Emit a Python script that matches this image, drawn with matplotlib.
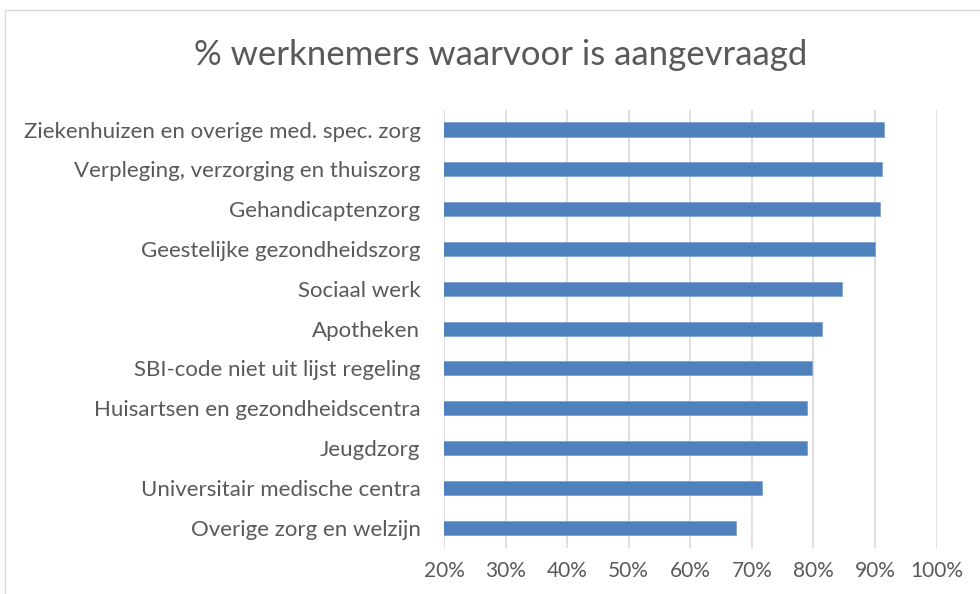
import matplotlib
matplotlib.use("Agg")
import matplotlib.pyplot as plt
from matplotlib.patches import Rectangle
from matplotlib.ticker import FuncFormatter

categories = [
    "Ziekenhuizen en overige med. spec. zorg",
    "Verpleging, verzorging en thuiszorg",
    "Gehandicaptenzorg",
    "Geestelijke gezondheidszorg",
    "Sociaal werk",
    "Apotheken",
    "SBI-code niet uit lijst regeling",
    "Huisartsen en gezondheidscentra",
    "Jeugdzorg",
    "Universitair medische centra",
    "Overige zorg en welzijn",
]
values = [91.4, 91.2, 90.9, 90.0, 84.7, 81.4, 79.8, 78.9, 78.9, 71.6, 67.4]
xticks = [20, 30, 40, 50, 60, 70, 80, 90, 100]
title = "% werknemers waarvoor is aangevraagd"

plt.rcParams['font.family'] = ['Lato', 'DejaVu Sans']
text_color = "#595959"

fig = plt.figure(figsize=(9.8, 5.94), dpi=100)
ax = fig.add_axes([444 / 980, 1 - 547.6 / 594, (936.5 - 444) / 980, (547.6 - 109.6) / 594])

pos = list(range(len(categories)))[::-1]
ax.barh(pos, values, height=0.355, color="#4f81bd", edgecolor="#7fa3d0", linewidth=0.6, zorder=3)

ax.set_xlim(20, 100)
ax.set_ylim(-0.5, len(categories) - 0.5)
ax.set_xticks(xticks)
ax.xaxis.set_major_formatter(FuncFormatter(lambda v, p: f"{v:.0f}%"))
ax.set_yticks(pos)
ax.set_yticklabels(categories)

ax.grid(axis="x", color="#d9d9d9", linewidth=1.2, zorder=0)
for s in ax.spines.values():
    s.set_visible(False)
ax.tick_params(axis="both", length=0, colors=text_color)
ax.tick_params(axis="y", pad=17, labelsize=16)
ax.tick_params(axis="x", pad=10, labelsize=15)

fig.text(501 / 980, 1 - 55 / 594, title, ha="center", va="center",
         fontsize=25, color=text_color)

fig.patches.append(Rectangle((5 / 980, -0.05), 1.0, 1 - 10 / 594 + 0.05,
                             transform=fig.transFigure, fill=False,
                             edgecolor="#d9d9d9", linewidth=1.0, clip_on=False))

fig.savefig("out.png", dpi=100)
